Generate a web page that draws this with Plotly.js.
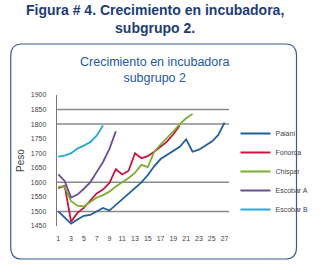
<!DOCTYPE html>
<html>
<head>
<meta charset="utf-8">
<script src="https://cdn.plot.ly/plotly-3.0.1.min.js"></script>
<style>html,body{margin:0;padding:0;background:#fff;}#chart{width:325px;height:266px;}</style>
</head>
<body>
<div id="chart"></div>
<script>
const seriesNames = ["Paiani", "Fonorca", "Chispar", "Escobar A", "Escobar B"];
const seriesColors = ["#1f5f9c", "#c8163f", "#7ab032", "#6b4c98", "#25a9dc"];
const paiani   = [1500,1478,1458,1472,1485,1488,1500,1512,1503,1523,1542,1562,1582,1600,1625,1655,1680,1695,1710,1722,1748,1705,1712,1725,1740,1762,1805];
const fonorca  = [1580,1588,1465,1495,1512,1538,1562,1575,1598,1645,1627,1640,1700,1683,1690,1705,1722,1740,1765,1795];
const chispar  = [1585,1585,1535,1520,1517,1533,1548,1556,1568,1586,1600,1615,1633,1660,1652,1705,1730,1752,1775,1800,1820,1835];
const escobarA = [1627,1605,1548,1558,1578,1600,1635,1670,1715,1775];
const escobarB = [1688,1692,1700,1716,1726,1738,1760,1795];
const yTicks = [1450,1500,1550,1600,1650,1700,1750,1800,1850,1900];
const xTicks = [1,3,5,7,9,11,13,15,17,19,21,23,25,27];
const gridValues = [1500,1600,1800,1850];

const allSeries = [paiani, fonorca, chispar, escobarA, escobarB];
const traces = allSeries.map((vals, i) => ({
  type: "scatter", mode: "lines",
  x: vals.map((v, j) => j + 1), y: vals,
  name: seriesNames[i],
  line: {color: seriesColors[i], width: 1.8}
}));

// rounded frame in paper coordinates
const L = 57, T = 95, W = 186, H = 131, B = 226;
function px(x) { return (x - L) / W; }
function py(y) { return (B - y) / H; }
const bx0 = 7, bx1 = 316, by0 = 44, by1 = 259, r = 12;
const framePath =
  `M ${px(bx0 + r)} ${py(by0)} L ${px(bx1 - r)} ${py(by0)} Q ${px(bx1)} ${py(by0)} ${px(bx1)} ${py(by0 + r)} ` +
  `L ${px(bx1)} ${py(by1 - r)} Q ${px(bx1)} ${py(by1)} ${px(bx1 - r)} ${py(by1)} ` +
  `L ${px(bx0 + r)} ${py(by1)} Q ${px(bx0)} ${py(by1)} ${px(bx0)} ${py(by1 - r)} ` +
  `L ${px(bx0)} ${py(by0 + r)} Q ${px(bx0)} ${py(by0)} ${px(bx0 + r)} ${py(by0)} Z`;

const shapes = [{type: "path", xref: "paper", yref: "paper", path: framePath,
  line: {color: "#3d5a8c", width: 1.2}, layer: "below"}];
gridValues.forEach(v => shapes.push({type: "line", xref: "paper", yref: "y",
  x0: 0, x1: 1, y0: v, y1: v, line: {color: "#8a8a8a", width: 1.5}, layer: "below"}));

const layout = {
  width: 325, height: 266,
  margin: {l: L, r: 325 - L - W, t: T, b: 266 - B},
  paper_bgcolor: "#ffffff", plot_bgcolor: "rgba(0,0,0,0)",
  font: {family: "Liberation Sans, Arial, sans-serif", color: "#555"},
  showlegend: true,
  annotations: [
    {text: "<b>Figura # 4. Crecimiento en incubadora,<br>subgrupo 2.</b>", xref: "paper", yref: "paper",
      x: px(162.5), y: py(18.5), xanchor: "center", yanchor: "middle", showarrow: false,
      font: {size: 14, color: "#1c3d78"}},
    {text: "Crecimiento en incubadora<br>subgrupo 2", xref: "paper", yref: "paper",
      x: px(162), y: py(69.5), xanchor: "center", yanchor: "middle", showarrow: false,
      font: {size: 12.5, color: "#2357a6"}}],
  xaxis: {range: [0.8, 27.7], tickmode: "array", tickvals: xTicks, ticktext: xTicks.map(String),
    showgrid: false, zeroline: false, showline: false, ticks: "", ticklabelstandoff: 7,
    tickfont: {size: 7, color: "#444"}},
  yaxis: {range: [1450, 1900], tickmode: "array", tickvals: yTicks, ticktext: yTicks.map(String),
    showgrid: false, zeroline: false, showline: true, linecolor: "#777", linewidth: 1.2, ticks: "",
    ticklabelstandoff: 8,
    tickfont: {size: 7, color: "#444"},
    title: {text: "Peso", font: {size: 10, color: "#444"}, standoff: 4}},
  legend: {x: px(250), y: py(119), xanchor: "left", yanchor: "top",
    bgcolor: "rgba(0,0,0,0)", font: {size: 7, color: "#444"}},
  shapes: shapes
};

Plotly.newPlot("chart", traces, layout, {displayModeBar: false, staticPlot: true});
</script>
</body>
</html>
